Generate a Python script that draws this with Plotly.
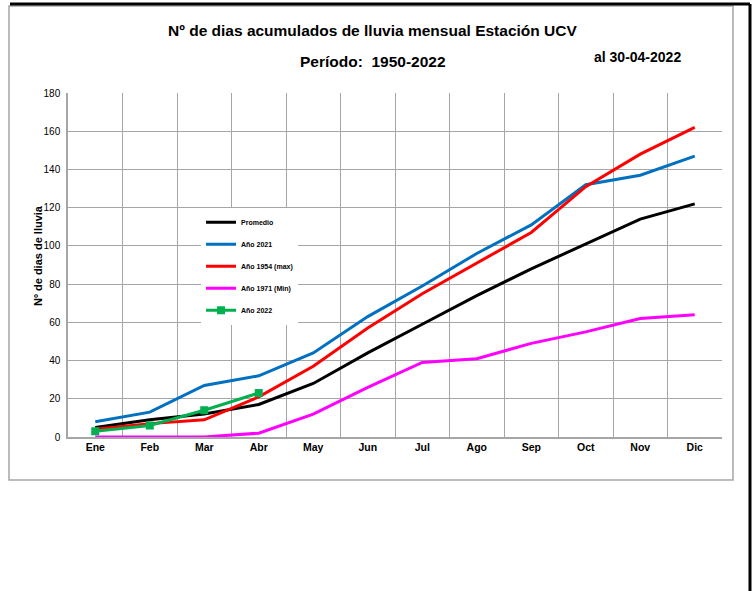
import plotly.graph_objects as go

# --- Data ---
meses = ["Ene", "Feb", "Mar", "Abr", "May", "Jun", "Jul", "Ago", "Sep", "Oct", "Nov", "Dic"]

promedio = [5, 9, 12, 17, 28, 44, 59, 74, 88, 101, 114, 122]
anio_2021 = [8, 13, 27, 32, 44, 63, 79, 96, 111, 132, 137, 147]
anio_1954 = [4, 7, 9, 21, 37, 57, 75, 91, 107, 131, 148, 162]
anio_1971 = [0, 0, 0, 2, 12, 26, 39, 41, 49, 55, 62, 64]
anio_2022 = [3, 6, 14, 23]

FONT = "Liberation Sans, Arial, sans-serif"

series = [
    ("Promedio", promedio, "#000000", None),
    ("Año 2021", anio_2021, "#0070C0", None),
    ("Año 1954 (max)", anio_1954, "#FF0000", None),
    ("Año 1971 (Min)", anio_1971, "#FF00FF", None),
    ("Año 2022", anio_2022, "#00B050", "square"),
]

fig = go.Figure()

for i, (name, vals, color, symbol) in enumerate(series):
    fig.add_trace(go.Scatter(
        x=meses[:len(vals)],
        y=vals,
        name=name,
        mode="lines+markers" if symbol else "lines",
        line=dict(color=color, width=3),
        marker=dict(symbol=symbol or "circle", size=8, color=color),
        legendgroup=f"g{i}",
        hovertemplate="%{x}: %{y}<extra>" + name + "</extra>",
    ))

# frame / borders (paper coords computed from plot area 68..722 x 93..437 px)
shapes = [
    dict(type="rect", xref="paper", yref="paper",
         x0=-0.0902, x1=1.0168, y0=-0.1250, y1=1.2529,
         line=dict(color="#A6A6A6", width=1.5), layer="below"),
    dict(type="line", xref="paper", yref="paper",
         x0=-0.0887, x1=1.0428, y0=1.2587, y1=1.2587,
         line=dict(color="#000000", width=3)),
    dict(type="line", xref="paper", yref="paper",
         x0=1.0428, x1=1.0428, y0=1.2587, y1=-0.46,
         line=dict(color="#000000", width=3)),
]

fig.update_layout(
    width=755,
    height=591,
    margin=dict(l=68, r=33, t=93, b=154),
    paper_bgcolor="white",
    plot_bgcolor="white",
    font=dict(family=FONT, color="#000000"),
    showlegend=True,
    legend=dict(
        x=0.2034, y=0.6665, xanchor="left", yanchor="top",
        bgcolor="white",
        font=dict(size=7, family=FONT, color="#000000", weight="bold"),
        tracegroupgap=3,
        itemwidth=30,
    ),
    shapes=shapes,
    annotations=[
        dict(text="<b>Nº de dias acumulados de lluvia mensual Estación UCV</b>",
             xref="paper", yref="paper", x=0.466, y=1.183,
             xanchor="center", yanchor="middle", showarrow=False,
             font=dict(size=15.5, family=FONT)),
        dict(text="<b>Período:  1950-2022</b>",
             xref="paper", yref="paper", x=0.466, y=1.093,
             xanchor="center", yanchor="middle", showarrow=False,
             font=dict(size=15.5, family=FONT)),
        dict(text="<b>al 30-04-2022</b>",
             xref="paper", yref="paper", x=0.871, y=1.105,
             xanchor="center", yanchor="middle", showarrow=False,
             font=dict(size=14, family=FONT)),
        dict(text="<b>Nº de dias de lluvia</b>",
             xref="paper", yref="paper", x=-0.0459, y=0.529,
             xanchor="center", yanchor="middle", showarrow=False,
             textangle=-90,
             font=dict(size=11, family=FONT)),
    ],
    xaxis=dict(
        type="category",
        categoryorder="array",
        categoryarray=meses,
        tickson="boundaries",
        showgrid=True,
        gridcolor="#A6A6A6",
        gridwidth=1,
        showline=True,
        linecolor="#A6A6A6",
        linewidth=1.5,
        ticks="",
        tickfont=dict(size=10.5, family=FONT, weight="bold"),
        range=[-0.5, 11.5],
        fixedrange=True,
    ),
    yaxis=dict(
        range=[0, 180],
        tickvals=list(range(0, 181, 20)),
        showgrid=True,
        gridcolor="#A6A6A6",
        gridwidth=1,
        showline=True,
        linecolor="#A6A6A6",
        linewidth=1.5,
        zeroline=False,
        ticks="",
        ticklabelstandoff=4,
        tickfont=dict(size=10, family=FONT),
    ),
)

# page body margin off so the figure sits at the window origin
fig.write_html(
    "out.html",
    config={"displayModeBar": False},
    post_script="document.body.style.margin='0';",
)
